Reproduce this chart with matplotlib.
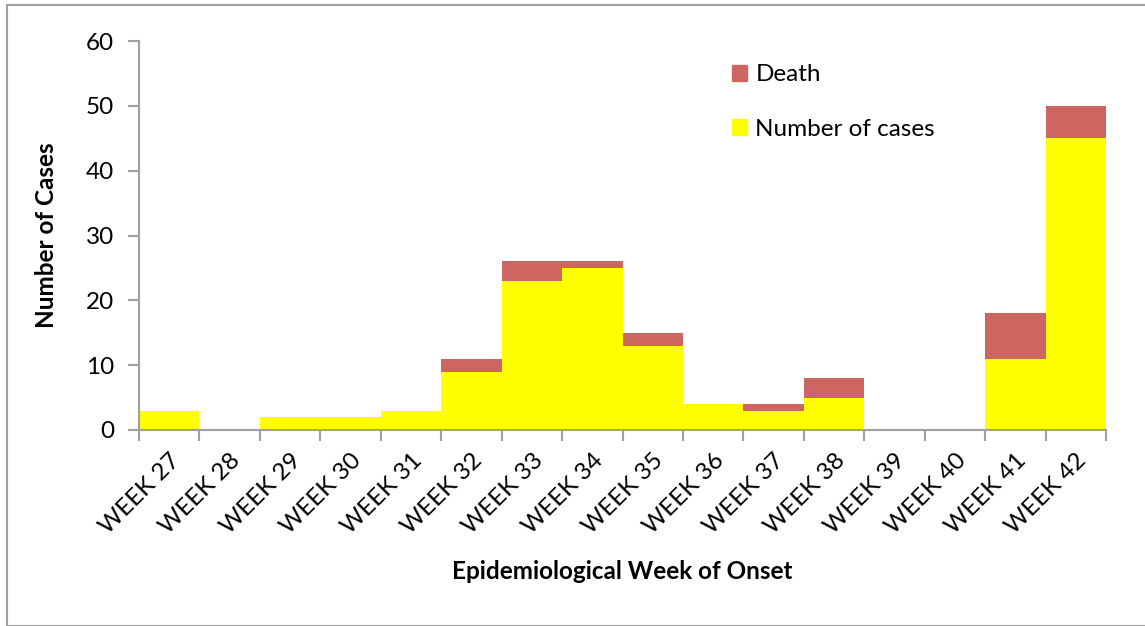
import matplotlib
matplotlib.use('Agg')
import matplotlib.pyplot as plt
from matplotlib.patches import Rectangle, Patch
import numpy as np

# 数据
weeks = ['WEEK 27', 'WEEK 28', 'WEEK 29', 'WEEK 30', 'WEEK 31', 'WEEK 32', 'WEEK 33', 'WEEK 34',
         'WEEK 35', 'WEEK 36', 'WEEK 37', 'WEEK 38', 'WEEK 39', 'WEEK 40', 'WEEK 41', 'WEEK 42']
cases = [3, 0, 2, 2, 3, 9, 23, 25, 13, 4, 3, 5, 0, 0, 11, 45]
deaths = [0, 0, 0, 0, 0, 2, 3, 1, 2, 0, 1, 3, 0, 0, 7, 5]

plt.rcParams['font.family'] = ['Lato', 'DejaVu Sans']
yellow = '#FFFF00'
red = '#CD6660'
grey = '#A0A0A0'
fs = 17.5

fig = plt.figure(figsize=(11.45, 6.26), dpi=100)
ax = fig.add_axes([139 / 1145, 1 - 430 / 626, (1106 - 139) / 1145, (430 - 41) / 626])

x = np.arange(len(weeks))
ax.bar(x, cases, width=1.0, color=yellow, edgecolor='none', label='Number of cases')
ax.bar(x, deaths, width=1.0, bottom=cases, color=red, edgecolor='none', label='Death')

ax.set_xlim(-0.5, len(weeks) - 0.5)
ax.set_ylim(0, 60)
ax.set_yticks(range(0, 61, 10))
ax.set_xticks(x)
ax.set_xticklabels(weeks, rotation=45, ha='right', rotation_mode='anchor')
ax.set_xticks(np.arange(-0.5, len(weeks), 1), minor=True)
ax.tick_params(axis='x', which='major', length=0, labelsize=fs, pad=14)
ax.tick_params(axis='x', which='minor', length=8, color=grey, width=1.5)
ax.tick_params(axis='y', length=8, color=grey, width=1.5, labelsize=fs, pad=10)

for s in ['top', 'right']:
    ax.spines[s].set_visible(False)
for s in ['left', 'bottom']:
    ax.spines[s].set_color(grey)
    ax.spines[s].set_linewidth(1.5)

ax.set_ylabel('Number of Cases', fontsize=fs, fontweight='bold', labelpad=20)
ax.set_xlabel('Epidemiological Week of Onset', fontsize=fs, fontweight='bold', labelpad=16)

handles = [Patch(color=red), Patch(color=yellow)]
ax.legend(handles, ['Death', 'Number of cases'], loc='upper left', bbox_to_anchor=(0.613, 0.94),
          frameon=False, fontsize=fs, handlelength=0.62, handleheight=0.62, labelspacing=1.38,
          handletextpad=0.35, borderpad=0, borderaxespad=0)

fig.patches.append(Rectangle((7 / 1145, 0), 1.0, 1 - 5 / 626, transform=fig.transFigure,
                             fill=False, edgecolor=grey, linewidth=1.5))

fig.savefig('out.png', dpi=100)
